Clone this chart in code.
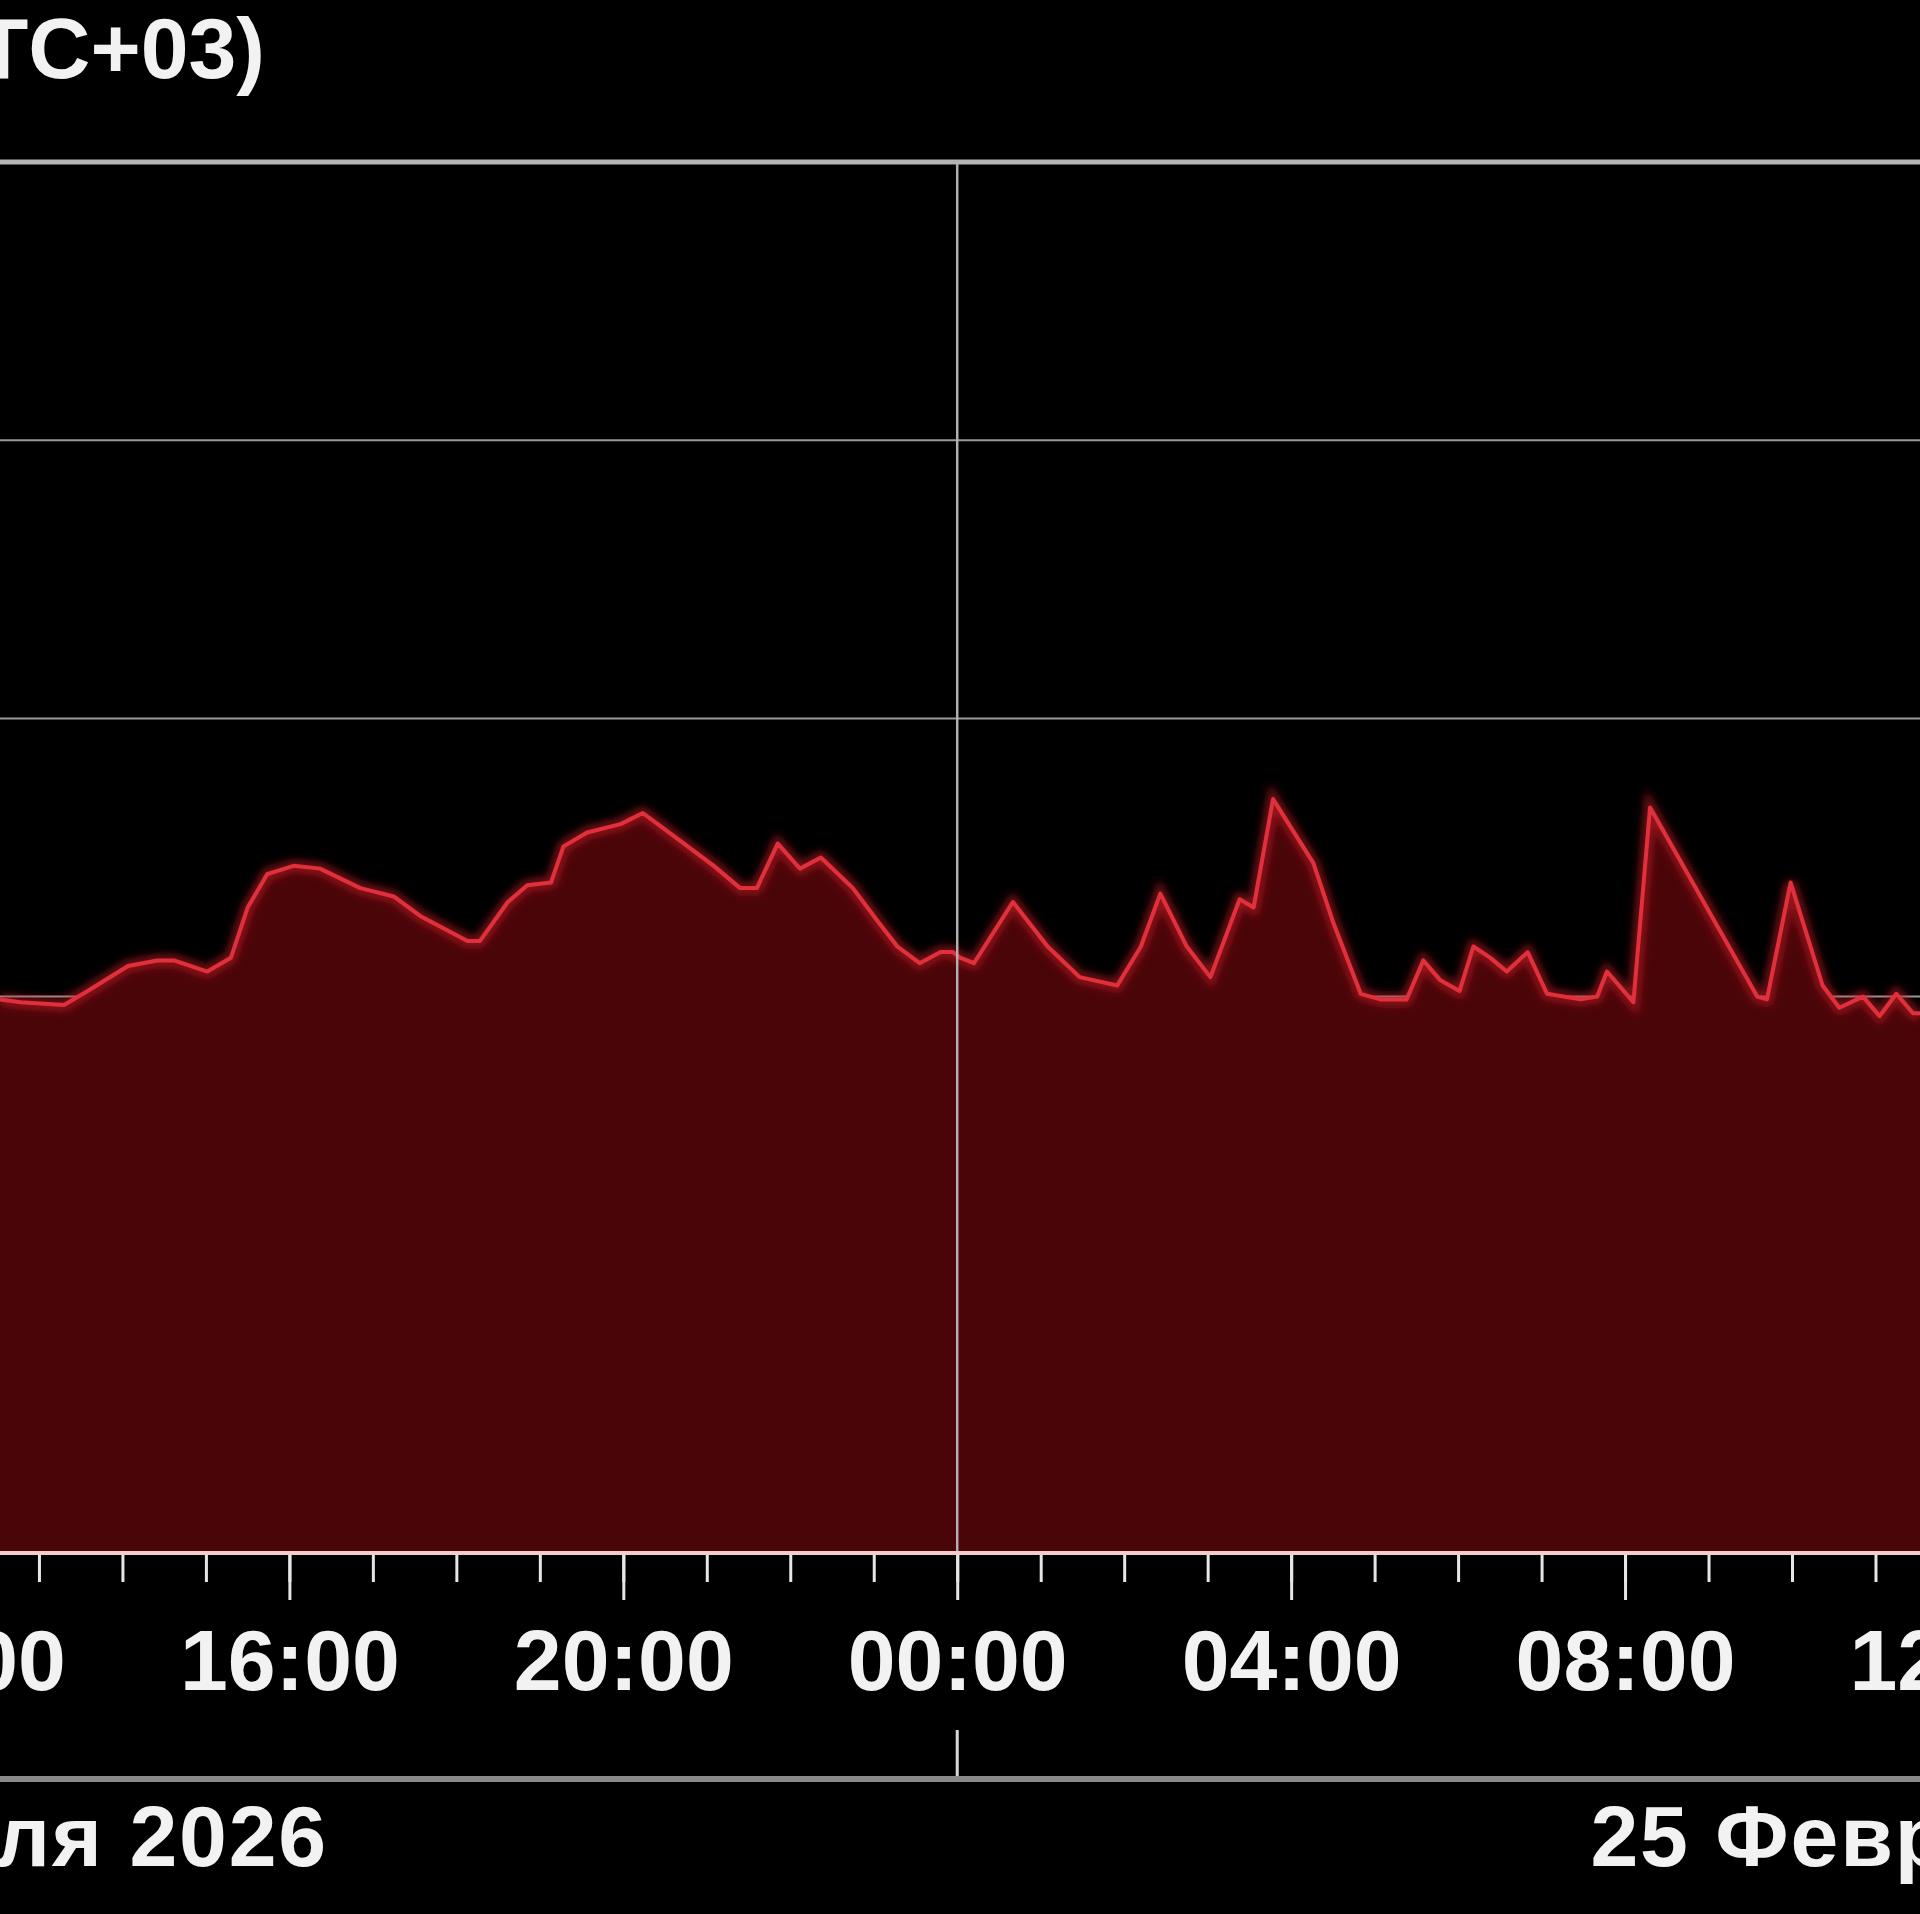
<!doctype html>
<html>
    <head>
        <meta charset="utf-8">
        <script src="https://d3js.org/d3.v7.min.js"></script>
        <style>
            body,
            html {
                margin: 0;
                padding: 0;
                overflow: hidden;
                background: #000;
            }
            text {
                font-family: "Liberation Sans", Arial, sans-serif;
                font-weight: bold;
                fill: #f2f2f2;
            }
        </style>
    </head>
    <body>
        <script>
            // time stamps (UTC+03) and readings
            const times = [
                "2026-02-24 12:32", "2026-02-24 12:47", "2026-02-24 13:18", "2026-02-24 13:35",
                "2026-02-24 14:04", "2026-02-24 14:25", "2026-02-24 14:37", "2026-02-24 15:01",
                "2026-02-24 15:18", "2026-02-24 15:30", "2026-02-24 15:44", "2026-02-24 16:03",
                "2026-02-24 16:22", "2026-02-24 16:51", "2026-02-24 17:15", "2026-02-24 17:34",
                "2026-02-24 18:08", "2026-02-24 18:17", "2026-02-24 18:37", "2026-02-24 18:51",
                "2026-02-24 19:08", "2026-02-24 19:17", "2026-02-24 19:34", "2026-02-24 19:58",
                "2026-02-24 20:14", "2026-02-24 20:41", "2026-02-24 21:05", "2026-02-24 21:24",
                "2026-02-24 21:36", "2026-02-24 21:51", "2026-02-24 22:07", "2026-02-24 22:22",
                "2026-02-24 22:45", "2026-02-24 23:03", "2026-02-24 23:17", "2026-02-24 23:33",
                "2026-02-24 23:48", "2026-02-24 23:57",
                "2026-02-25 00:02", "2026-02-25 00:12", "2026-02-25 00:40", "2026-02-25 01:05",
                "2026-02-25 01:28", "2026-02-25 01:55", "2026-02-25 02:12", "2026-02-25 02:26",
                "2026-02-25 02:45", "2026-02-25 03:02", "2026-02-25 03:23", "2026-02-25 03:33",
                "2026-02-25 03:47", "2026-02-25 04:16", "2026-02-25 04:30", "2026-02-25 04:50",
                "2026-02-25 05:04", "2026-02-25 05:23", "2026-02-25 05:35", "2026-02-25 05:47",
                "2026-02-25 06:01", "2026-02-25 06:11", "2026-02-25 06:23", "2026-02-25 06:35",
                "2026-02-25 06:50", "2026-02-25 07:04", "2026-02-25 07:28", "2026-02-25 07:40",
                "2026-02-25 07:47", "2026-02-25 08:06", "2026-02-25 08:18", "2026-02-25 09:35",
                "2026-02-25 09:42", "2026-02-25 09:59", "2026-02-25 10:22", "2026-02-25 10:34",
                "2026-02-25 10:51", "2026-02-25 11:03", "2026-02-25 11:15", "2026-02-25 11:27",
                "2026-02-25 11:32"
            ];
            const values = [
                1.99, 1.98, 1.97, 2.02,
                2.11, 2.13, 2.13, 2.09,
                2.14, 2.32, 2.44, 2.47,
                2.46, 2.39, 2.36, 2.29,
                2.20, 2.20, 2.34, 2.40,
                2.41, 2.54, 2.59, 2.62,
                2.66, 2.56, 2.47, 2.39,
                2.39, 2.55, 2.46, 2.50,
                2.39, 2.27, 2.18, 2.12,
                2.16, 2.16,
                2.14, 2.12, 2.34, 2.18,
                2.07, 2.04, 2.18, 2.37,
                2.18, 2.07, 2.35, 2.32,
                2.71, 2.48, 2.27, 2.01,
                1.99, 1.99, 2.13, 2.06,
                2.02, 2.18, 2.14, 2.09,
                2.16, 2.01, 1.99, 2.00,
                2.09, 1.98, 2.68, 2.00,
                1.99, 2.41, 2.04, 1.96,
                2.00, 1.93, 2.01, 1.94,
                1.94
            ];
            const timeRange = ["2026-02-24 12:32", "2026-02-25 11:32"];
            const labelRange = ["2026-02-24 12:00", "2026-02-25 12:01"];
            const yDomain = [0, 5];
            const yGrid = [1, 2, 3, 4];
            const days = ["2026-02-24 12:00", "2026-02-25 12:00"];
            const dayLabels = ["24 Февраля 2026", "25 Февраля 2026"];
            const midnight = "2026-02-25 00:00";
            const title = "Время (UTC+03)";

            const width = 1920;
            const height = 1914;
            const plotTop = 162;
            const plotBase = 1553;
            const lowerRule = 1779;

            const parse = d3.timeParse("%Y-%m-%d %H:%M");
            const data = times.map((t, i) => ({ t: parse(t), v: values[i] }));

            const x = d3
                .scaleTime()
                .domain(timeRange.map(parse))
                .range([0, width]);
            const y = d3
                .scaleLinear()
                .domain(yDomain)
                .range([plotBase, plotTop]);

            const svg = d3
                .create("svg")
                .attr("width", width)
                .attr("height", height)
                .attr("viewBox", [0, 0, width, height])
                .style("background", "#000");

            const defs = svg.append("defs");
            defs.append("filter")
                .attr("id", "glow")
                .attr("x", "-5%")
                .attr("y", "-20%")
                .attr("width", "110%")
                .attr("height", "140%")
                .append("feGaussianBlur")
                .attr("stdDeviation", 4);

            // horizontal gridlines (behind the area)
            svg.append("g")
                .selectAll("line")
                .data(yGrid)
                .join("line")
                .attr("x1", 0)
                .attr("x2", width)
                .attr("y1", (d) => y(d))
                .attr("y2", (d) => y(d))
                .attr("stroke", "#9a9a9a")
                .attr("stroke-width", 2);

            const area = d3
                .area()
                .x((d) => x(d.t))
                .y0(y(0))
                .y1((d) => y(d.v));

            const line = d3
                .line()
                .x((d) => x(d.t))
                .y((d) => y(d.v));

            svg.append("path")
                .datum(data)
                .attr("d", area)
                .attr("fill", "#4a0509");

            svg.append("path")
                .datum(data)
                .attr("d", line)
                .attr("fill", "none")
                .attr("stroke", "#c01824")
                .attr("stroke-width", 11)
                .attr("stroke-opacity", 0.65)
                .attr("filter", "url(#glow)");

            svg.append("path")
                .datum(data)
                .attr("d", line)
                .attr("fill", "none")
                .attr("stroke", "#e0303c")
                .attr("stroke-width", 4)
                .attr("stroke-linejoin", "round");

            // day separator
            const xm = x(parse(midnight));
            svg.append("line")
                .attr("x1", xm)
                .attr("x2", xm)
                .attr("y1", plotTop)
                .attr("y2", plotBase)
                .attr("stroke", "#b0b0b0")
                .attr("stroke-width", 2.5);
            svg.append("line")
                .attr("x1", xm)
                .attr("x2", xm)
                .attr("y1", 1730)
                .attr("y2", lowerRule)
                .attr("stroke", "#d8d8d8")
                .attr("stroke-width", 3);

            // top border and lower rule
            svg.append("line")
                .attr("x1", 0)
                .attr("x2", width)
                .attr("y1", plotTop)
                .attr("y2", plotTop)
                .attr("stroke", "#b4b4b4")
                .attr("stroke-width", 5);
            svg.append("line")
                .attr("x1", 0)
                .attr("x2", width)
                .attr("y1", lowerRule)
                .attr("y2", lowerRule)
                .attr("stroke", "#8a8a8a")
                .attr("stroke-width", 6);

            // hourly minor ticks
            const minor = svg
                .append("g")
                .attr("transform", `translate(0,${plotBase})`)
                .call(
                    d3
                        .axisBottom(x)
                        .ticks(d3.timeHour.every(1))
                        .tickSize(29)
                        .tickFormat("")
                );
            minor.select(".domain").remove();
            minor.selectAll(".tick line")
                .attr("stroke", "#e6e6e6")
                .attr("stroke-width", 3);

            // 4-hour major ticks with labels (labels run past both edges)
            const labelRangeDates = labelRange.map(parse);
            const majorTicks = d3.timeHour
                .every(4)
                .range(labelRangeDates[0], labelRangeDates[1]);
            const major = svg
                .append("g")
                .attr("transform", `translate(0,${plotBase})`)
                .call(
                    d3
                        .axisBottom(x)
                        .tickValues(majorTicks)
                        .tickSize(47)
                        .tickFormat(d3.timeFormat("%H:%M"))
                );
            major.select(".domain").remove();
            major.selectAll(".tick line")
                .attr("stroke", "#e6e6e6")
                .attr("stroke-width", 3);
            major.selectAll(".tick text")
                .attr("y", 137)
                .attr("dy", null)
                .attr("font-size", 86)
                .attr("fill", "#f2f2f2");

            // x axis line
            svg.append("line")
                .attr("x1", 0)
                .attr("x2", width)
                .attr("y1", plotBase)
                .attr("y2", plotBase)
                .attr("stroke", "#f4cccc")
                .attr("stroke-width", 4);

            // day labels centred on noon
            svg.append("g")
                .selectAll("text")
                .data(days)
                .join("text")
                .attr("x", (d) => x(parse(d)) + 2)
                .attr("y", 1866)
                .attr("text-anchor", "middle")
                .attr("font-size", 86)
                .attr("letter-spacing", 1.8)
                .text((d, i) => dayLabels[i]);

            svg.append("text")
                .attr("x", 265)
                .attr("y", 78)
                .attr("text-anchor", "end")
                .attr("font-size", 86)
                .text(title);

            document.body.appendChild(svg.node());
        </script>
    </body>
</html>
